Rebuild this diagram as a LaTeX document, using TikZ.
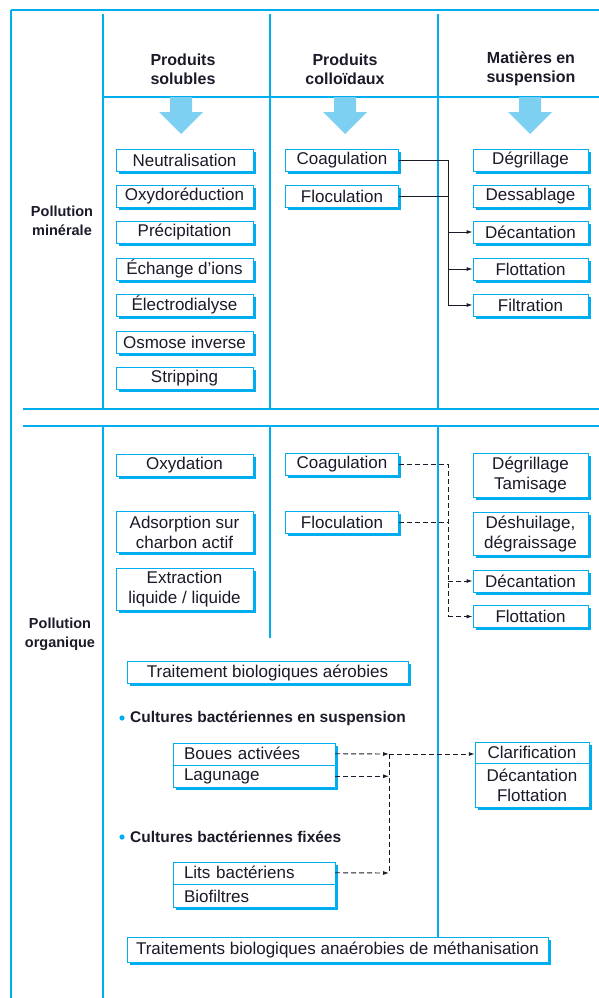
\documentclass[tikz,border=0pt]{standalone}
\usepackage{fontspec}
\setmainfont{Liberation Sans}
\usetikzlibrary{shadows,arrows.meta}
\definecolor{cy}{HTML}{00AEEF}
\definecolor{lb}{HTML}{7DD0F2}
\definecolor{ink}{HTML}{1A1A28}
\begin{document}
\begin{tikzpicture}[x=1pt,y=-1pt,
  frame/.style={draw=cy, line width=1.3pt},
  box/.style={draw=cy, line width=0.9pt, fill=white, text=ink,
    drop shadow={shadow xshift=2.6pt, shadow yshift=-2.6pt, fill=cy, opacity=1},
    inner sep=0pt, font=\fontsize{17}{20}\selectfont, align=center},
  sbox/.style={box, minimum width=137, minimum height=22},
  cbox/.style={box, minimum width=113, minimum height=22},
  rbox/.style={box, minimum width=115, minimum height=22},
  row/.style={inner sep=0pt, minimum width=162, minimum height=22, text width=140,
    align=left, text=ink, font=\fontsize{17}{20}\selectfont},
  head/.style={align=center, text=ink, font=\bfseries\fontsize{16}{19}\selectfont},
  side/.style={align=center, text=ink, font=\bfseries\fontsize{14.5}{19}\selectfont},
  sub/.style={anchor=west, text=ink, inner sep=0pt, font=\bfseries\fontsize{15.5}{19}\selectfont},
  link/.style={draw=ink, line width=0.9pt},
  dlink/.style={link, dash pattern=on 5pt off 3pt},
  tip/.style={-{Latex[length=6pt,width=4pt]}},
  fat/.style={fill=lb, draw=none}
]
\useasboundingbox (0,0) rectangle (599,998);

% ---------- grid lines ----------
\draw[frame] (11,10) -- (599,10);
\draw[frame] (11,10) -- (11,998);
\draw[frame] (103,14) -- (103,408);
\draw[frame] (270,14) -- (270,408);
\draw[frame] (438,14) -- (438,408);
\draw[frame] (103,97) -- (599,97);
\draw[frame] (23,409) -- (599,409);
\draw[frame] (23,426) -- (599,426);
\draw[frame] (103,426) -- (103,998);
\draw[frame] (270,426) -- (270,638);
\draw[frame] (438,426) -- (438,937);

% ---------- headers ----------
\node[head] (h1) at (183,69) {Produits\\solubles};
\node[head] (h2) at (345,69) {Produits\\colloïdaux};
\node[head] (h3) at (531,69) {Matières en\\suspension};

\foreach \c in {181,345,530}{
  \fill[fat] (\c-11,97) -- (\c+11,97) -- (\c+11,112) -- (\c+22,112) -- (\c,134)
     -- (\c-22,112) -- (\c-11,112) -- cycle;
}

\node[side] (pm) at (62,221) {Pollution\\minérale};
\node[side] (po) at (60,634) {Pollution\\organique};

% ---------- upper section ----------
\node[sbox] (neu) at (184.5,160) {Neutralisation};
\node[sbox] (oxr) at (184.5,196) {Oxydoréduction};
\node[sbox] (pre) at (184.5,232) {Précipitation};
\node[sbox] (ech) at (184.5,269) {Échange d'ions};
\node[sbox] (ele) at (184.5,305) {Électrodialyse};
\node[sbox] (osm) at (184.5,342) {Osmose inverse};
\node[sbox] (str) at (184.5,378) {Stripping};

\node[cbox] (coa1) at (342,160) {Coagulation};
\node[cbox] (flo1) at (342,196) {Floculation};

\node[rbox] (deg1) at (530.5,160) {Dégrillage};
\node[rbox] (des1) at (530.5,196) {Dessablage};
\node[rbox] (dec1) at (530.5,232) {Décantation};
\node[rbox] (flt1) at (530.5,269) {Flottation};
\node[rbox] (fil1) at (530.5,305) {Filtration};

\coordinate (ja) at (448,160);
\coordinate (jb) at (448,305);
\draw[link] (coa1.east) -- (ja) -- (jb);
\draw[link] (flo1.east) -- (flo1.east -| ja);
\draw[link,tip] (dec1.west -| ja) -- (dec1.west);
\draw[link,tip] (flt1.west -| ja) -- (flt1.west);
\draw[link,tip] (jb) -- (fil1.west);

% ---------- lower section ----------
\node[sbox] (oxy) at (184.5,465) {Oxydation};
\node[sbox, minimum height=41] (ads) at (184.5,532) {Adsorption sur\\charbon actif};
\node[sbox, minimum height=42] (ext) at (184.5,589) {Extraction\\liquide / liquide};

\node[cbox] (coa2) at (342,464) {Coagulation};
\node[cbox] (flo2) at (342,522) {Floculation};

\node[rbox, minimum height=44] (deg2) at (530.5,475) {Dégrillage\\Tamisage};
\node[rbox, minimum height=43] (desh) at (530.5,533.5) {Déshuilage,\\dégraissage};
\node[rbox] (dec2) at (530.5,581) {Décantation};
\node[rbox] (flt2) at (530.5,616.5) {Flottation};

\coordinate (jc) at (448,464);
\coordinate (jd) at (448,616.5);
\draw[dlink] (coa2.east) -- (jc) -- (jd);
\draw[dlink] (flo2.east) -- (flo2.east -| jc);
\draw[dlink,tip] (dec2.west -| jc) -- (dec2.west);
\draw[dlink,tip] (jd) -- (flt2.west);

\node[box, minimum width=281, minimum height=22] (aer) at (267.5,672.5) {Traitement biologiques aérobies};

\fill[cy] (122,718) circle (2.6);
\node[sub] (cs) at (130,718) {Cultures bactériennes en suspension};

\node[box, minimum width=162, minimum height=44] (bl) at (254,765) {};
\node[row, anchor=north] (bou) at (bl.north) {Boues activées};
\node[row, anchor=south] (lag) at (bl.south) {Lagunage};
\draw[cy, line width=0.9pt] (bou.south west) -- (bou.south east);

\node[box, minimum width=114, minimum height=65] (cl) at (532,774.5) {};
\node[inner sep=0pt, minimum width=114, minimum height=21, anchor=north, text=ink,
  font=\fontsize{17}{20}\selectfont] (clar) at (cl.north) {Clarification};
\node[inner sep=0pt, minimum width=114, minimum height=44, anchor=south, text=ink, align=center,
  font=\fontsize{17}{19.5}\selectfont] (decf) at (cl.south) {Décantation\\Flottation};
\draw[cy, line width=0.9pt] (clar.south west) -- (clar.south east);

\fill[cy] (122,837) circle (2.6);
\node[sub] (cf) at (130,837) {Cultures bactériennes fixées};

\node[box, minimum width=162, minimum height=45] (lb2) at (254,884.5) {};
\node[row, anchor=north] (lit) at (lb2.north) {Lits bactériens};
\node[row, anchor=south] (bio) at (lb2.south) {Biofiltres};
\draw[cy, line width=0.9pt] (lit.south west) -- (lit.south east);

\coordinate (je) at (389,754);
\coordinate (jf) at (389,873);
\draw[dlink,tip] (bou.east) -- (je);
\draw[dlink,tip] (je) -- (je -| clar.west);
\draw[dlink,tip] (lag.east) -- (lag.east -| je);
\draw[dlink] (je) -- (jf);
\draw[dlink,tip] (lit.east) -- (jf);

\node[box, minimum width=421, minimum height=25] (ana) at (337.5,949.5) {Traitements biologiques anaérobies de méthanisation};
\end{tikzpicture}
\end{document}
